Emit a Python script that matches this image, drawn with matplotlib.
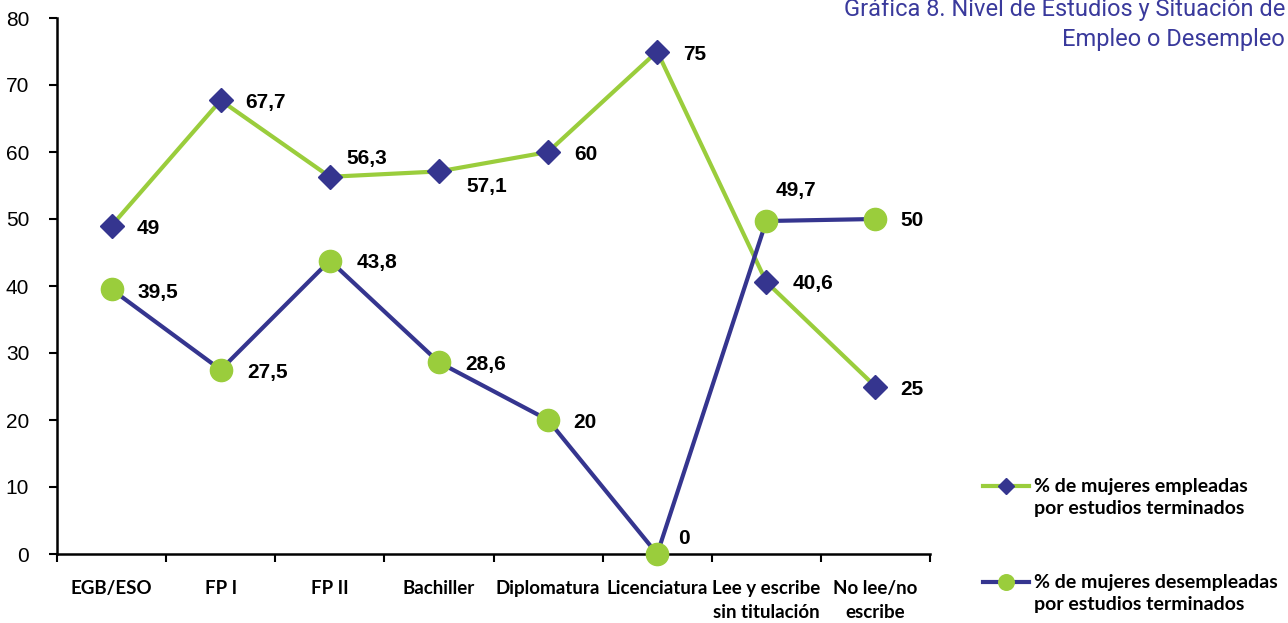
import matplotlib
matplotlib.use('Agg')
import matplotlib.pyplot as plt
from matplotlib.legend_handler import HandlerLine2D
import numpy as np

categorias = ['EGB/ESO', 'FP I', 'FP II', 'Bachiller', 'Diplomatura', 'Licenciatura',
              'Lee y escribe\nsin titulación', 'No lee/no\nescribe']
empleadas = [49, 67.7, 56.3, 57.1, 60, 75, 40.6, 25]
desempleadas = [39.5, 27.5, 43.8, 28.6, 20, 0, 49.7, 50]
lbl_emp = ['49', '67,7', '56,3', '57,1', '60', '75', '40,6', '25']
lbl_des = ['39,5', '27,5', '43,8', '28,6', '20', '0', '49,7', '50']

verde = '#9acd3c'
azul = '#35358f'

# label offsets (pixels) from each point
off_emp = [(25, -3), (25, -2), (17, 18), (27, -15), (26, -2), (26, -3), (26, -2), (25, -3)]
off_des = [(26, -3), (27, -3), (27, -2), (26, -2), (25, -2), (21, 16), (9, 31), (25, -2)]


class HandlerArriba(HandlerLine2D):
    # puts the legend line next to the first text line
    def create_artists(self, legend, orig_handle, xdescent, ydescent, width, height,
                       fontsize, trans):
        return super().create_artists(legend, orig_handle, xdescent, ydescent - 16.5,
                                      width, height, fontsize, trans)


fig = plt.figure(figsize=(12.88, 6.23), dpi=100)
ax = fig.add_axes([57/1288, 1-554/623, (930-57)/1288, (554-18)/623])

x = np.arange(len(categorias))
l1, = ax.plot(x, empleadas, color=verde, lw=3, marker='D', ms=12,
              mfc=azul, mec=azul, label='% de mujeres empleadas\npor estudios terminados', zorder=3)
l2, = ax.plot(x, desempleadas, color=azul, lw=3, marker='o', ms=16,
              mfc=verde, mec=verde, label='% de mujeres desempleadas\npor estudios terminados', zorder=3)

for xi, v, t, o in zip(x, empleadas, lbl_emp, off_emp):
    ax.annotate(t, (xi, v), xytext=o, textcoords='offset pixels', ha='left', va='center',
                fontsize=15, fontweight='bold', family='Liberation Sans')
for xi, v, t, o in zip(x, desempleadas, lbl_des, off_des):
    ax.annotate(t, (xi, v), xytext=o, textcoords='offset pixels', ha='left', va='center',
                fontsize=15, fontweight='bold', family='Liberation Sans')

ax.set_xlim(-0.5, 7.5)
ax.set_ylim(0, 80)
ax.set_yticks(range(0, 81, 10))
ax.set_yticklabels([str(v) for v in range(0, 81, 10)], fontsize=15, family='Liberation Sans')
ax.set_xticks(np.arange(-0.5, 8, 1))
ax.set_xticklabels([])
ax.set_xticks(x, minor=True)
ax.set_xticklabels(categorias, minor=True, fontsize=13.5, fontweight='bold', family='Lato',
                   va='top', linespacing=1.45)
ax.tick_params(axis='x', which='minor', length=0, pad=19)
ax.tick_params(axis='x', which='major', length=6, width=1.5, direction='out')
ax.tick_params(axis='y', length=6, width=1.5, direction='out', pad=14)
for s in ['top', 'right']:
    ax.spines[s].set_visible(False)
for s in ['left', 'bottom']:
    ax.spines[s].set_linewidth(1.8)
for ln in ax.lines:
    ln.set_clip_on(False)

leg = fig.legend(loc='upper left', bbox_to_anchor=(975/1288, 1-470/623), frameon=False,
                 prop={'family': 'Lato', 'weight': 'bold', 'size': 14}, labelspacing=2.9,
                 handlelength=2.4, handletextpad=0.25, borderaxespad=0, markerscale=0.7,
                 handler_map={l1: HandlerArriba(), l2: HandlerArriba()})
for t in leg.get_texts():
    t.set_linespacing(1.4)

fig.text(1285/1288, 1-46/623, 'Gráfica 8. Nivel de Estudios y Situación de\nEmpleo o Desempleo',
         ha='right', va='baseline', fontsize=17, color='#3a3a9c', family='Roboto',
         linespacing=1.38, multialignment='right')

fig.savefig('out.png', dpi=100)
